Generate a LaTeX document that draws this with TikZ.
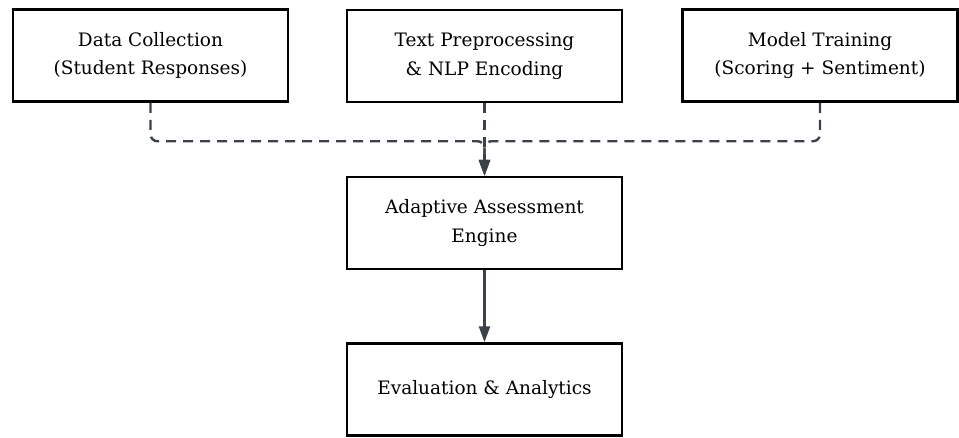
\documentclass[tikz,border=0pt]{standalone}
\usepackage{fontspec}
\setmainfont{DejaVu Serif}
\usetikzlibrary{arrows.meta}
\definecolor{edgegray}{HTML}{3B414B}
\begin{document}
\begin{tikzpicture}[x=1pt,y=-1pt,
  stagebox/.style={draw=black, line width=2.5pt, fill=white,
    minimum width=275pt, minimum height=92pt, align=center,
    inner sep=0pt, font=\fontsize{18.5}{28.5}\selectfont},
  flowlink/.style={draw=edgegray, line width=2.4pt, rounded corners=7pt,
    -{Triangle[length=16pt,width=11pt]}},
  feedlink/.style={flowlink, dash pattern=on 10pt off 7pt}]
  \useasboundingbox (0,0) rectangle (959,437);

  % top row of stages
  \node[stagebox] (collect) at (150.5,55.5) {Data Collection\\(Student Responses)};
  \node[stagebox] (prep)    at (484.5,56)   {Text Preprocessing\\\& NLP Encoding};
  \node[stagebox] (train)   at (820,55.5)   {Model Training\\(Scoring + Sentiment)};

  % central engine and output
  \node[stagebox] (engine) at (484.5,223)   {Adaptive Assessment\\Engine};
  \node[stagebox] (eval)   at (484.5,389.5) {Evaluation \& Analytics};

  % feeds into the engine
  \draw[feedlink] (collect.south) -- ++(0,38.5) -| (engine.north);
  \draw[feedlink] (train.south)   -- ++(0,38.5) -| (engine.north);
  \draw[feedlink] (prep.south) -- (engine.north);

  % engine to evaluation
  \draw[flowlink] (engine.south) -- (eval.north);
\end{tikzpicture}
\end{document}
